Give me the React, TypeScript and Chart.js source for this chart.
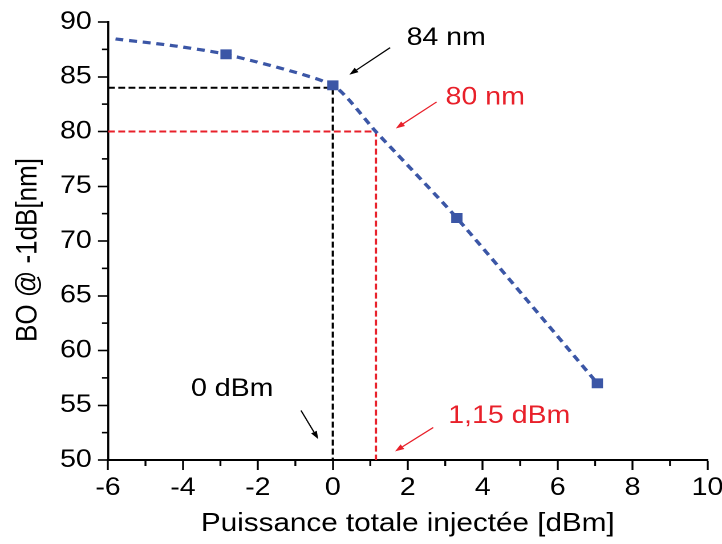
import React, { useEffect, useRef } from 'react';
import { Chart, registerables } from 'chart.js';

Chart.register(...registerables);

// ---------- data ----------
const xTickValues = [-6, -4, -2, 0, 2, 4, 6, 8, 10];
const yTickValues = [50, 55, 60, 65, 70, 75, 80, 85, 90];

// dashed fitted curve
const fitX = [-5.8, -4.27, -2.85, 0, 1.15, 3.31, 7.06];
const fitY = [88.45, 87.84, 87.05, 84.22, 79.98, 72.1, 57.0];

// measured points (squares)
const measX = [-2.85, 0, 3.31, 7.06];
const measY = [87.05, 84.22, 72.1, 57.0];

// guide lines
const blackGuideX = [-6, 0, 0];
const blackGuideY = [84, 84, 50];
const redGuideX = [-6, 1.15, 1.15];
const redGuideY = [80, 80, 50];

// annotations (data coordinates)
const annotationLabels = ['84 nm', '80 nm', '0 dBm', '1,15 dBm'];
const annotationTextAt = [[1.97, 87.9], [3.01, 82.45], [-3.785, 55.85], [3.08, 53.36]];
const annotationArrowFrom = [[1.53, 87.66], [2.77, 82.7], [-0.85, 54.52], [2.68, 52.97]];
const annotationArrowTo = [[0.44, 85.18], [1.68, 80.27], [-0.39, 51.91], [1.66, 50.79]];

const xTitle = 'Puissance totale injectée [dBm]';
const yTitle = 'BO @ -1dB[nm]';

// ---------- style ----------
const FONT = "'Liberation Sans', Arial, Helvetica, sans-serif";
const BLUE = '#3b56a6';
const RED = '#e8202a';
const BLACK = '#000000';
const annotationColors = [BLACK, RED, BLACK, RED];

const INNER_W = 633; // drawn width, displayed stretched to 722
const INNER_H = 544;
const PLOT_LEFT = 94.7;
const PLOT_RIGHT = 620.3;
const PLOT_TOP = 22;
const PLOT_BOTTOM = 460;

const toPts = (xs: number[], ys: number[]) => xs.map((x, i) => ({ x, y: ys[i] }));

const decorPlugin = {
  id: 'decor',
  afterDraw(chart: any) {
    const { ctx, chartArea } = chart;
    const xs = chart.scales.x;
    const ys = chart.scales.y;
    ctx.save();

    // minor ticks
    ctx.strokeStyle = BLACK;
    ctx.lineWidth = 1.7;
    const xt = xs.ticks.map((t: any) => t.value);
    for (let i = 0; i < xt.length - 1; i++) {
      const px = xs.getPixelForValue((xt[i] + xt[i + 1]) / 2);
      ctx.beginPath();
      ctx.moveTo(px, chartArea.bottom);
      ctx.lineTo(px, chartArea.bottom + 6);
      ctx.stroke();
    }
    ctx.lineWidth = 1.6;
    const yt = ys.ticks.map((t: any) => t.value);
    for (let i = 0; i < yt.length - 1; i++) {
      const py = ys.getPixelForValue((yt[i] + yt[i + 1]) / 2);
      ctx.beginPath();
      ctx.moveTo(chartArea.left, py);
      ctx.lineTo(chartArea.left - 5.3, py);
      ctx.stroke();
    }

    // y title
    ctx.save();
    ctx.translate(24.8, (chartArea.top + chartArea.bottom) / 2 + 9);
    ctx.rotate(-Math.PI / 2);
    ctx.fillStyle = BLACK;
    ctx.font = `26px ${FONT}`;
    ctx.textAlign = 'center';
    ctx.textBaseline = 'middle';
    ctx.fillText(yTitle, 0, 0);
    ctx.restore();

    // annotations
    ctx.font = `25px ${FONT}`;
    ctx.textAlign = 'left';
    ctx.textBaseline = 'alphabetic';
    annotationLabels.forEach((label, i) => {
      const color = annotationColors[i];
      ctx.fillStyle = color;
      ctx.strokeStyle = color;
      const tx = xs.getPixelForValue(annotationTextAt[i][0]);
      const ty = ys.getPixelForValue(annotationTextAt[i][1]);
      ctx.fillText(label, tx, ty);

      const x1 = xs.getPixelForValue(annotationArrowFrom[i][0]);
      const y1 = ys.getPixelForValue(annotationArrowFrom[i][1]);
      const x2 = xs.getPixelForValue(annotationArrowTo[i][0]);
      const y2 = ys.getPixelForValue(annotationArrowTo[i][1]);
      const ang = Math.atan2(y2 - y1, x2 - x1);
      const headLen = 8;
      const headHalf = 2.8;
      const bx = x2 - headLen * Math.cos(ang);
      const by = y2 - headLen * Math.sin(ang);
      ctx.lineWidth = 1.2;
      ctx.beginPath();
      ctx.moveTo(x1, y1);
      ctx.lineTo(bx, by);
      ctx.stroke();
      ctx.beginPath();
      ctx.moveTo(x2, y2);
      ctx.lineTo(bx + headHalf * Math.sin(ang), by - headHalf * Math.cos(ang));
      ctx.lineTo(bx - headHalf * Math.sin(ang), by + headHalf * Math.cos(ang));
      ctx.closePath();
      ctx.fill();
    });

    ctx.restore();
  },
};

export default function App() {
  const canvasRef = useRef<HTMLCanvasElement | null>(null);

  useEffect(() => {
    const canvas = canvasRef.current;
    if (!canvas) return;
    const chart = new Chart(canvas, {
      type: 'scatter',
      data: {
        datasets: [
          {
            label: 'mesures',
            data: toPts(measX, measY),
            pointStyle: 'rect',
            pointRadius: 7,
            backgroundColor: BLUE,
            borderWidth: 0,
            showLine: false,
          },
          {
            label: 'fit',
            data: toPts(fitX, fitY),
            showLine: true,
            borderColor: BLUE,
            borderWidth: 3.2,
            borderDash: [7, 5],
            pointRadius: 0,
            tension: 0.2,
            fill: false,
          },
          {
            label: 'guide 84',
            data: toPts(blackGuideX, blackGuideY),
            showLine: true,
            borderColor: BLACK,
            borderWidth: 2,
            borderDash: [6, 3],
            pointRadius: 0,
            tension: 0,
            fill: false,
          },
          {
            label: 'guide 80',
            data: toPts(redGuideX, redGuideY),
            showLine: true,
            borderColor: RED,
            borderWidth: 2,
            borderDash: [6, 3],
            pointRadius: 0,
            tension: 0,
            fill: false,
          },
        ],
      },
      options: {
        responsive: false,
        animation: false,
        devicePixelRatio: 2,
        events: [],
        layout: {
          padding: { left: 0, top: PLOT_TOP, right: INNER_W - PLOT_RIGHT, bottom: 0 },
        },
        plugins: {
          legend: { display: false },
          tooltip: { enabled: false },
        },
        scales: {
          x: {
            type: 'linear',
            position: 'bottom',
            min: -6,
            max: 10,
            afterBuildTicks: (s: any) => {
              s.ticks = xTickValues.map((v) => ({ value: v }));
            },
            afterFit: (s: any) => {
              s.height = INNER_H - PLOT_BOTTOM;
              s.paddingLeft = 0;
              s.paddingRight = 0;
            },
            grid: {
              display: true,
              drawOnChartArea: false,
              drawTicks: true,
              tickLength: 10,
              tickColor: BLACK,
              tickWidth: 1.7,
              color: BLACK,
            },
            border: { display: true, color: BLACK, width: 2 },
            ticks: {
              color: BLACK,
              font: { family: FONT, size: 25 },
              padding: 3,
              maxRotation: 0,
              autoSkip: false,
            },
            title: {
              display: true,
              text: xTitle,
              color: BLACK,
              font: { family: FONT, size: 26 },
              padding: { top: 0, bottom: 4.4 },
            },
          },
          y: {
            type: 'linear',
            position: 'left',
            min: 50,
            max: 90,
            afterBuildTicks: (s: any) => {
              s.ticks = yTickValues.map((v) => ({ value: v }));
            },
            afterFit: (s: any) => {
              s.width = PLOT_LEFT;
              s.paddingTop = 0;
              s.paddingBottom = 0;
            },
            grid: {
              display: true,
              drawOnChartArea: false,
              drawTicks: true,
              tickLength: 8.8,
              tickColor: BLACK,
              tickWidth: 1.6,
              color: BLACK,
            },
            border: { display: true, color: BLACK, width: 1.8 },
            ticks: {
              color: BLACK,
              font: { family: FONT, size: 25 },
              padding: 5.5,
              autoSkip: false,
            },
            title: { display: false },
          },
        },
      },
      plugins: [decorPlugin],
    });
    return () => chart.destroy();
  }, []);

  return (
    <div style={{ position: 'fixed', left: 0, top: 0, width: 722, height: 544, background: '#fff' }}>
      <canvas
        ref={canvasRef}
        width={INNER_W}
        height={INNER_H}
        style={{ display: 'block', width: '722px', height: '544px' }}
      />
    </div>
  );
}
